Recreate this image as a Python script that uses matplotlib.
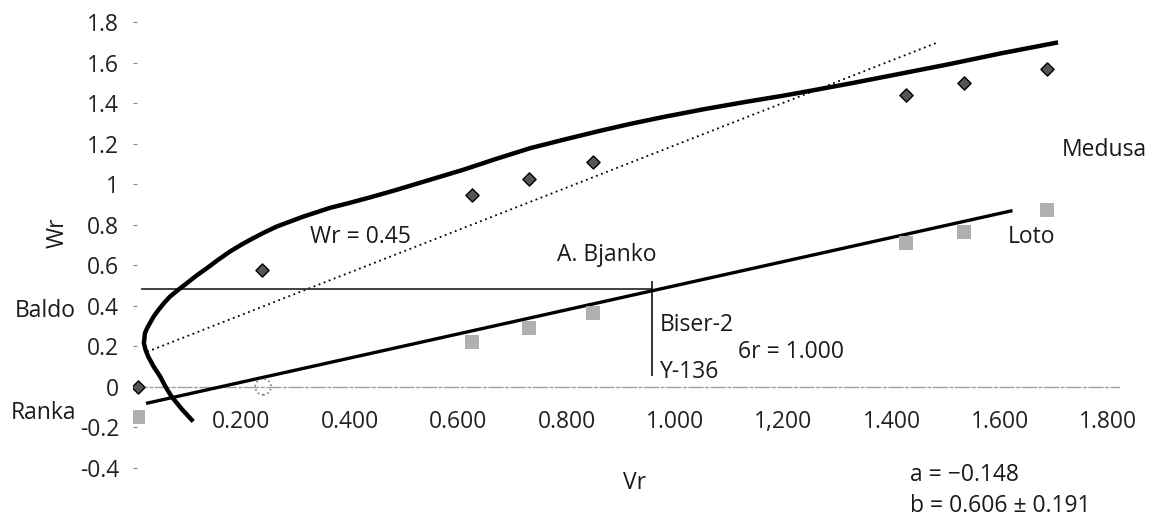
import matplotlib
matplotlib.use("Agg")
import matplotlib.pyplot as plt

plt.rcParams["font.family"] = ["Open Sans", "DejaVu Sans"]
plt.rcParams["font.size"] = 16.5

# ── Data ─────────────────────────────────────────────────────────────────────
x_ticks = [0.2, 0.4, 0.6, 0.8, 1.0, 1.2, 1.4, 1.6, 1.8]
x_tick_labels = ["0.200", "0.400", "0.600", "0.800", "1.000",
                 "1,200", "1.400", "1.600", "1.800"]
y_ticks = [1.8, 1.6, 1.4, 1.2, 1.0, 0.8, 0.6, 0.4, 0.2, 0.0, -0.2, -0.4]
y_tick_labels = ["1.8", "1.6", "1.4", "1.2", "1", "0.8", "0.6", "0.4",
                 "0.2", "0", "-0.2", "-0.4"]

# Wr values (diamonds)
wr_vr = [0.01, 0.238, 0.625, 0.731, 0.849, 1.426, 1.533, 1.686]
wr_val = [0.0, 0.577, 0.947, 1.026, 1.11, 1.44, 1.50, 1.57]

# second series (grey squares)
sq_vr = [0.01, 0.625, 0.731, 0.849, 1.426, 1.533, 1.686]
sq_val = [-0.15, 0.222, 0.29, 0.365, 0.71, 0.765, 0.873]
open_vr = [0.24]
open_val = [0.0]

# limiting parabola (thick curve), traced point by point
curve_vr = [0.111, 0.090, 0.071, 0.060, 0.050, 0.038, 0.028, 0.023, 0.020,
            0.021, 0.022, 0.026, 0.031, 0.038, 0.047, 0.057, 0.068, 0.083,
            0.099, 0.117, 0.136, 0.157, 0.179, 0.200, 0.222, 0.243, 0.265,
            0.290, 0.314, 0.338, 0.363, 0.397, 0.440, 0.486, 0.548, 0.609,
            0.670, 0.733, 0.795, 0.856, 0.918, 0.979, 1.055, 1.132, 1.200,
            1.260, 1.323, 1.400, 1.507, 1.600, 1.707]
curve_wr = [-0.171, -0.110, -0.048, 0.000, 0.051, 0.100, 0.149, 0.183, 0.216,
            0.240, 0.265, 0.290, 0.314, 0.347, 0.380, 0.413, 0.445, 0.478,
            0.511, 0.549, 0.585, 0.627, 0.668, 0.702, 0.734, 0.763, 0.791,
            0.816, 0.840, 0.861, 0.883, 0.906, 0.937, 0.972, 1.022, 1.071,
            1.125, 1.178, 1.220, 1.260, 1.298, 1.332, 1.371, 1.407, 1.437,
            1.466, 1.497, 1.537, 1.593, 1.645, 1.700]

# regression line, unit-slope (dotted) line, reference lines
reg_vr = [0.027, 1.62]
reg_wr = [-0.08, 0.868]
dot_vr = [0.026, 1.485]
dot_wr = [0.173, 1.70]
hline_vr = [0.017, 0.958]
hline_wr = [0.483, 0.483]
vline_vr = [0.958, 0.958]
vline_wr = [0.518, 0.059]

# ── Figure ──────────────────────────────────────────────────────────────────
fig = plt.figure(figsize=(11.49, 5.22), dpi=100)
ax = fig.add_axes([0.1158, 0.0843, 0.8583, 0.8927])
ax.set_xlim(0, 1.82)
ax.set_ylim(-0.45, 1.85)

for side in ["top", "right", "left"]:
    ax.spines[side].set_visible(False)
ax.spines["bottom"].set_position(("data", 0))
ax.spines["bottom"].set_color("#a0a0a0")
ax.spines["bottom"].set_linestyle((0, (10, 2, 2, 2)))
ax.spines["bottom"].set_linewidth(1.0)

ax.set_xticks(x_ticks, x_tick_labels)
ax.set_yticks(y_ticks, y_tick_labels)
ax.tick_params(axis="x", length=0, pad=17, labelcolor="#222222")
ax.tick_params(axis="y", direction="in", length=3, width=0.8, color="#888888",
               pad=10, labelcolor="#222222")

ax.plot(curve_vr, curve_wr, color="black", lw=3.2, solid_capstyle="butt",
        solid_joinstyle="round", zorder=3)
ax.plot(reg_vr, reg_wr, color="black", lw=2.4, zorder=3)
ax.plot(dot_vr, dot_wr, color="black", lw=1.3, ls=(0, (1, 2)), zorder=2)
ax.plot(hline_vr, hline_wr, color="#333333", lw=1.3, zorder=2)
ax.plot(vline_vr, vline_wr, color="#222222", lw=1.3, zorder=2)

ax.scatter(wr_vr, wr_val, marker="D", s=45, facecolor="#555555",
           edgecolor="black", linewidth=1.0, zorder=4)
ax.scatter(sq_vr, sq_val, marker="s", s=100, facecolor="#b0b0b0",
           edgecolor="none", zorder=4)
ax.scatter(open_vr, open_val, marker="o", s=130, facecolors="none",
           edgecolors="#777777", linestyles=":", linewidth=1.2, zorder=4)

txt = dict(color="#1a1a1a", va="center")
ax.text(-0.105, 0.375, "Baldo", ha="right", **txt)
ax.text(-0.105, -0.128, "Ranka", ha="right", **txt)
ax.text(1.714, 1.17, "Medusa", ha="left", **txt)
ax.text(1.614, 0.74, "Loto", ha="left", **txt)
ax.text(0.782, 0.65, "A. Bjanko", ha="left", **txt)
ax.text(0.327, 0.74, "Wr = 0.45", ha="left", **txt)
ax.text(0.972, 0.306, "Biser-2", ha="left", **txt)
ax.text(0.972, 0.074, "Y-136", ha="left", **txt)
ax.text(1.116, 0.173, "6r = 1.000", ha="left", **txt)
ax.text(1.434, -0.435, "a = \u22120.148", ha="left", **txt)
ax.text(1.434, -0.59, "b = 0.606 \u00b1 0.191", ha="left", **txt)

ax.text(0.925, -0.475, "Vr", ha="center", **txt)
fig.text(58 / 1149, 1 - 233 / 522, "Wr", rotation=90, ha="center", va="center",
         color="#1a1a1a", fontsize=16.5)

fig.savefig("out.png", dpi=100)
